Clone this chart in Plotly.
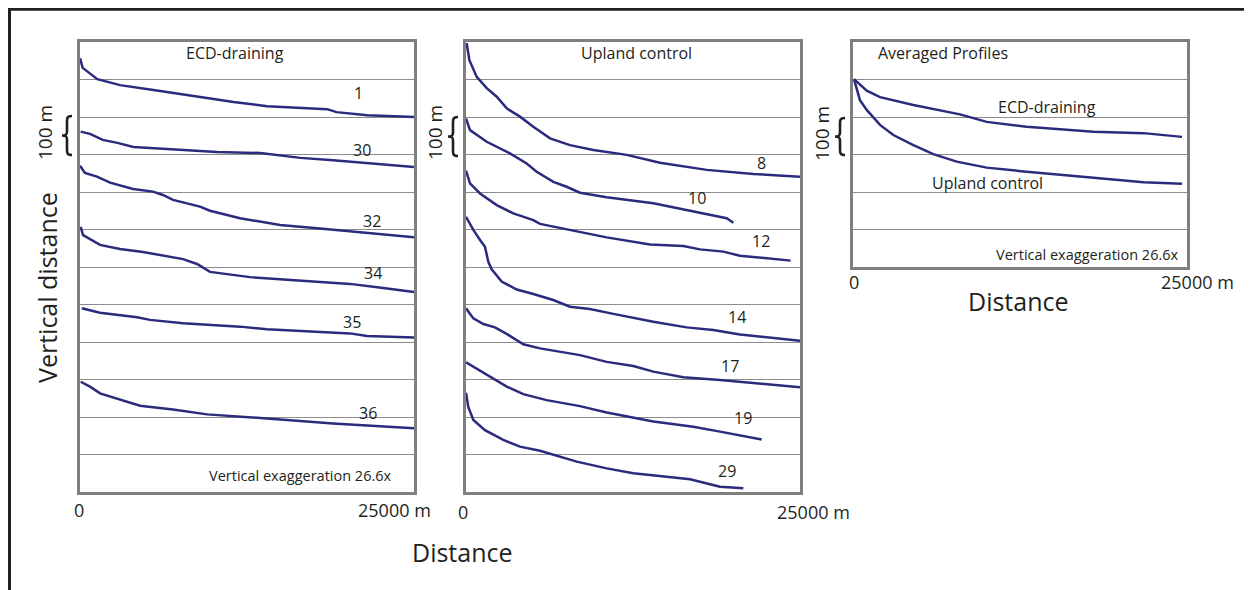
import plotly.graph_objects as go

W, H = 1252, 590
OFF = 8  # default page margin of the browser body
LINE = "#2b2b7e"
TXT = "#231f20"
GRID = "#8c8c8c"
BORDER = "#7f7f7f"
FONT = "Open Sans"

# ---------------- data (distance in m, relative elevation in m) ----------------
# ECD-draining panel
ecd_1_x = [0, 200, 1300, 3000, 5500, 9000, 11500, 14000, 18500, 19200, 21500, 25000]
ecd_1_y = [-43, -69, -99, -115, -128, -147, -160, -171, -179, -187, -195, -200]
ecd_30_x = [50, 750, 1700, 2800, 4000, 6500, 10250, 13500, 16500, 18950, 21950, 25000]
ecd_30_y = [-239, -245, -261, -269, -280, -285, -293, -296, -309, -315, -323, -333]
ecd_32_x = [0, 370, 1270, 2250, 3970, 5460, 6210, 6960, 8980, 9730, 11980, 14970, 17960, 21480, 25000]
ecd_32_y = [-330, -349, -359, -375, -392, -399, -408, -421, -439, -450, -470, -488, -497, -509, -521]
ecd_34_x = [50, 230, 1500, 2990, 4720, 6510, 7710, 8760, 9730, 12730, 16470, 20210, 22700, 25000]
ecd_34_y = [-493, -515, -541, -552, -560, -571, -579, -592, -613, -627, -637, -645, -656, -667]
ecd_35_x = [130, 1500, 4270, 5240, 7710, 11980, 14000, 20210, 21480, 25000]
ecd_35_y = [-710, -722, -734, -741, -750, -759, -766, -777, -784, -788]
ecd_36_x = [50, 750, 1500, 2990, 4490, 6960, 9510, 14000, 18940, 25000]
ecd_36_y = [-906, -919, -937, -953, -970, -980, -993, -1004, -1017, -1030]

# Upland control panel
up_8_x = [50, 250, 800, 1550, 2300, 3050, 4040, 5040, 6290, 7780, 9530, 12030, 14520, 18020, 21510, 25000]
up_8_y = [-3, -48, -93, -123, -146, -177, -199, -226, -257, -275, -288, -301, -322, -341, -352, -359]
up_10_x = [0, 300, 1550, 3290, 4540, 5290, 6540, 7530, 8530, 10530, 14020, 16520, 19510, 20010]
up_10_y = [-204, -235, -266, -297, -324, -346, -373, -386, -402, -414, -430, -448, -470, -482]
up_12_x = [0, 300, 1050, 2300, 3540, 5040, 5540, 7780, 10530, 13770, 16270, 17510, 19260, 20510, 24300]
up_12_y = [-343, -377, -404, -435, -457, -475, -485, -501, -521, -540, -544, -553, -559, -570, -583]
up_14_x = [0, 550, 1050, 1420, 1670, 1920, 2670, 3800, 5040, 6530, 7780, 9280, 11030, 14020, 16520, 18510, 20510, 25000]
up_14_y = [-466, -501, -528, -546, -586, -606, -639, -660, -672, -688, -706, -712, -725, -746, -761, -768, -780, -797]
up_17_x = [0, 550, 1300, 2170, 3170, 4290, 5540, 8530, 10530, 12520, 14020, 16270, 19010, 21510, 25000]
up_17_y = [-710, -737, -752, -761, -781, -806, -817, -835, -853, -864, -879, -894, -901, -910, -921]
up_19_x = [0, 1550, 3050, 4290, 6040, 8530, 10530, 14020, 17010, 19010, 22130]
up_19_y = [-854, -888, -919, -939, -955, -971, -988, -1012, -1026, -1039, -1060]
up_29_x = [0, 170, 550, 1420, 2790, 4040, 5540, 8290, 10530, 12520, 16770, 19010, 20760]
up_29_y = [-935, -973, -1008, -1035, -1061, -1079, -1090, -1119, -1137, -1150, -1166, -1186, -1190]

# Averaged profiles panel
avg_ecd_x = [75, 1030, 2020, 4520, 8010, 10010, 13000, 18010, 21750, 24630]
avg_ecd_y = [-99, -130, -147, -168, -193, -213, -226, -239, -243, -253]
avg_up_x = [75, 520, 1030, 2020, 3020, 4520, 6010, 7760, 10010, 13000, 18010, 21750, 24630]
avg_up_y = [-99, -155, -181, -221, -248, -275, -299, -319, -335, -346, -362, -374, -378]

ecd_names = ["1", "30", "32", "34", "35", "36"]
up_names = ["8", "10", "12", "14", "17", "19", "29"]
avg_names = ["ECD-draining", "Upland control"]
tick_labels = ["0", "25000 m"]

ecd_series = [(ecd_1_x, ecd_1_y), (ecd_30_x, ecd_30_y), (ecd_32_x, ecd_32_y),
              (ecd_34_x, ecd_34_y), (ecd_35_x, ecd_35_y), (ecd_36_x, ecd_36_y)]
up_series = [(up_8_x, up_8_y), (up_10_x, up_10_y), (up_12_x, up_12_y), (up_14_x, up_14_y),
             (up_17_x, up_17_y), (up_19_x, up_19_y), (up_29_x, up_29_y)]
avg_series = [(avg_ecd_x, avg_ecd_y), (avg_up_x, avg_up_y)]

# label positions (page pixels)
ecd_lbl_pos = [(358, 93), (362, 150), (372, 221), (373, 273), (352, 322), (368, 413)]
up_lbl_pos = [(761, 163), (697, 198), (761, 241), (737, 317), (730, 366), (743, 418), (727, 471)]
avg_lbl_pos = [(1047, 107), (987, 183)]


def px(x):
    return (x - OFF) / W


def py(y):
    return 1 - (y - OFF) / H


fig = go.Figure()

for xs, ys in ecd_series:
    fig.add_trace(go.Scatter(x=xs, y=ys, mode="lines", line=dict(color=LINE, width=2.5),
                             xaxis="x", yaxis="y", hoverinfo="skip"))
for xs, ys in up_series:
    fig.add_trace(go.Scatter(x=xs, y=ys, mode="lines", line=dict(color=LINE, width=2.5),
                             xaxis="x2", yaxis="y2", hoverinfo="skip"))
for xs, ys in avg_series:
    fig.add_trace(go.Scatter(x=xs, y=ys, mode="lines", line=dict(color=LINE, width=2.5),
                             xaxis="x3", yaxis="y3", hoverinfo="skip"))


def xax(x0, x1):
    return dict(domain=[px(x0), px(x1)], range=[0, 25000], showgrid=False, zeroline=False,
                showticklabels=False, ticks="", showline=True, mirror=True,
                linecolor=BORDER, linewidth=2.5, fixedrange=True)


def yax(y0, y1, lo, anchor):
    return dict(domain=[py(y1), py(y0)], range=[lo, 0], showgrid=True, gridcolor=GRID,
                gridwidth=1, dtick=100, tick0=0, zeroline=False, showticklabels=False,
                ticks="", showline=True, mirror=True, linecolor=BORDER, linewidth=2.5,
                anchor=anchor, fixedrange=True)


fig.update_layout(
    width=W, height=H, margin=dict(l=0, r=0, t=0, b=0),
    paper_bgcolor="white", plot_bgcolor="white", showlegend=False,
    font=dict(family=FONT, color=TXT),
    xaxis=dict(xax(80, 414), anchor="y"),
    yaxis=yax(42, 492, -1200, "x"),
    xaxis2=dict(xax(466, 800), anchor="y2"),
    yaxis2=yax(42, 492, -1200, "x2"),
    xaxis3=dict(xax(853, 1187), anchor="y3"),
    yaxis3=yax(42, 267, -600, "x3"),
)

ann = []


def text(x, y, s, size, angle=0, xanchor="center"):
    ann.append(dict(x=px(x), y=py(y), xref="paper", yref="paper", text=s, showarrow=False,
                    font=dict(family=FONT, size=size, color=TXT), textangle=angle,
                    xanchor=xanchor, yanchor="middle"))


# panel titles
text(235, 53, "ECD-draining", 16)
text(636, 53, "Upland control", 16)
text(876, 53, "Averaged Profiles", 16, xanchor="left")
# vertical exaggeration notes
text(394, 475, "Vertical exaggeration 26.6x", 14.5, xanchor="right")
text(1181, 254, "Vertical exaggeration 26.6x", 14.5, xanchor="right")

# series labels
for name, (x, y) in zip(ecd_names, ecd_lbl_pos):
    text(x, y, name, 16)
for name, (x, y) in zip(up_names, up_lbl_pos):
    text(x, y, name, 16)
for name, (x, y) in zip(avg_names, avg_lbl_pos):
    text(x, y, name, 16)

# tick labels
text(79, 510, tick_labels[0], 18)
text(394, 510, tick_labels[1], 18)
text(463, 512, tick_labels[0], 18)
text(813, 512, tick_labels[1], 18)
text(854, 282, tick_labels[0], 18)
text(1197, 282, tick_labels[1], 18)

# axis titles
text(463, 552, "Distance", 25)
text(1018, 301, "Distance", 25)
text(47, 288, "Vertical distance", 25, angle=-90)

# 100 m labels
text(45, 133, "100 m", 19, angle=-90)
text(435, 133, "100 m", 19, angle=-90)
text(822, 133, "100 m", 19, angle=-90)

fig.update_layout(annotations=ann)

shapes = []
# outer frame (open to the right and bottom)
shapes.append(dict(type="path", xref="paper", yref="paper",
                   path=f"M {px(9.5)},{py(620)} L {px(9.5)},{py(9.2)} L {px(1300)},{py(9.2)}",
                   line=dict(color=TXT, width=3)))


def brace(xl, xr, top, bot):
    xm = (xl + xr) / 2
    mid = (top + bot) / 2
    pts = [
        ("M", [(xr, top)]),
        ("C", [(xm, top), (xm, top + 2), (xm, top + 6)]),
        ("L", [(xm, mid - 4)]),
        ("C", [(xm, mid - 1), (xm - 1, mid), (xl, mid)]),
        ("C", [(xm - 1, mid), (xm, mid + 1), (xm, mid + 4)]),
        ("L", [(xm, bot - 6)]),
        ("C", [(xm, bot - 2), (xm, bot), (xr, bot)]),
    ]
    s = ""
    for cmd, ps in pts:
        s += cmd + " " + " ".join(f"{px(a):.5f},{py(b):.5f}" for a, b in ps) + " "
    return dict(type="path", xref="paper", yref="paper", path=s.strip(),
                line=dict(color=TXT, width=2.6))


shapes.append(brace(62, 72, 116, 155))
shapes.append(brace(448, 458, 117, 156))
shapes.append(brace(835, 845, 118, 155))
fig.update_layout(shapes=shapes)

fig.write_html("out.html")
